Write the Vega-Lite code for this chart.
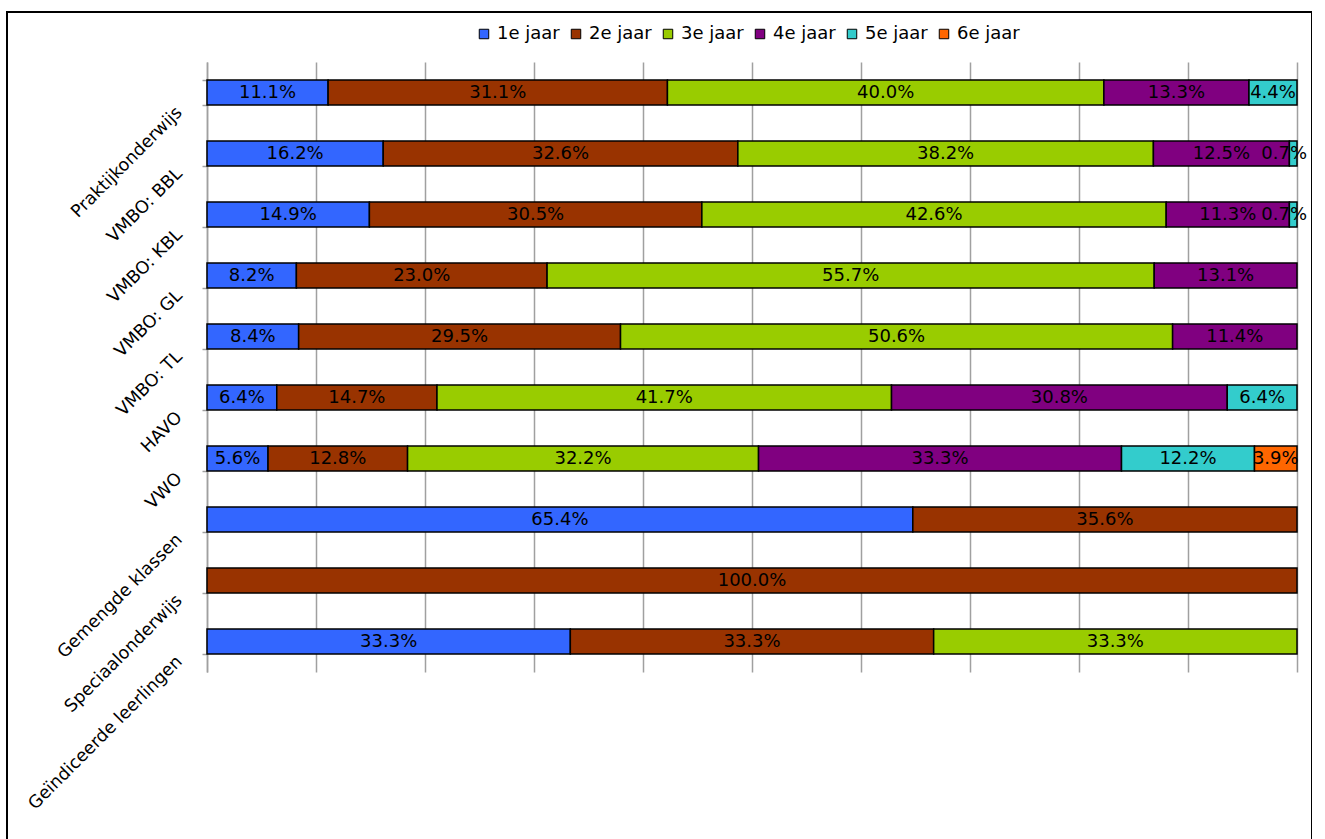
{
  "$schema": "https://vega.github.io/schema/vega-lite/v6.json",
  "autosize": {"type": "none"},
  "padding": {"left": 7, "top": 12, "right": 0, "bottom": 0},
  "width": 1305,
  "height": 840,
  "background": "white",
  "config": {"view": {"stroke": "black", "strokeWidth": 2}, "font": "DejaVu Sans"},
  "data": {"values": [
    {"cat": "Praktijkonderwijs", "year": "1e jaar", "p": 0.111},
    {"cat": "Praktijkonderwijs", "year": "2e jaar", "p": 0.311},
    {"cat": "Praktijkonderwijs", "year": "3e jaar", "p": 0.400},
    {"cat": "Praktijkonderwijs", "year": "4e jaar", "p": 0.133},
    {"cat": "Praktijkonderwijs", "year": "5e jaar", "p": 0.044},
    {"cat": "VMBO: BBL", "year": "1e jaar", "p": 0.162},
    {"cat": "VMBO: BBL", "year": "2e jaar", "p": 0.326},
    {"cat": "VMBO: BBL", "year": "3e jaar", "p": 0.382},
    {"cat": "VMBO: BBL", "year": "4e jaar", "p": 0.125},
    {"cat": "VMBO: BBL", "year": "5e jaar", "p": 0.007},
    {"cat": "VMBO: KBL", "year": "1e jaar", "p": 0.149},
    {"cat": "VMBO: KBL", "year": "2e jaar", "p": 0.305},
    {"cat": "VMBO: KBL", "year": "3e jaar", "p": 0.426},
    {"cat": "VMBO: KBL", "year": "4e jaar", "p": 0.113},
    {"cat": "VMBO: KBL", "year": "5e jaar", "p": 0.007},
    {"cat": "VMBO: GL", "year": "1e jaar", "p": 0.082},
    {"cat": "VMBO: GL", "year": "2e jaar", "p": 0.230},
    {"cat": "VMBO: GL", "year": "3e jaar", "p": 0.557},
    {"cat": "VMBO: GL", "year": "4e jaar", "p": 0.131},
    {"cat": "VMBO: TL", "year": "1e jaar", "p": 0.084},
    {"cat": "VMBO: TL", "year": "2e jaar", "p": 0.295},
    {"cat": "VMBO: TL", "year": "3e jaar", "p": 0.506},
    {"cat": "VMBO: TL", "year": "4e jaar", "p": 0.114},
    {"cat": "HAVO", "year": "1e jaar", "p": 0.064},
    {"cat": "HAVO", "year": "2e jaar", "p": 0.147},
    {"cat": "HAVO", "year": "3e jaar", "p": 0.417},
    {"cat": "HAVO", "year": "4e jaar", "p": 0.308},
    {"cat": "HAVO", "year": "5e jaar", "p": 0.064},
    {"cat": "VWO", "year": "1e jaar", "p": 0.056},
    {"cat": "VWO", "year": "2e jaar", "p": 0.128},
    {"cat": "VWO", "year": "3e jaar", "p": 0.322},
    {"cat": "VWO", "year": "4e jaar", "p": 0.333},
    {"cat": "VWO", "year": "5e jaar", "p": 0.122},
    {"cat": "VWO", "year": "6e jaar", "p": 0.039},
    {"cat": "Gemengde klassen", "year": "1e jaar", "p": 0.654},
    {"cat": "Gemengde klassen", "year": "2e jaar", "p": 0.356},
    {"cat": "Speciaalonderwijs", "year": "2e jaar", "p": 1.0},
    {"cat": "Geïndiceerde leerlingen", "year": "1e jaar", "p": 0.333},
    {"cat": "Geïndiceerde leerlingen", "year": "2e jaar", "p": 0.333},
    {"cat": "Geïndiceerde leerlingen", "year": "3e jaar", "p": 0.333}
  ]},
  "encoding": {
    "y": {
      "field": "cat", "type": "nominal",
      "sort": ["Praktijkonderwijs", "VMBO: BBL", "VMBO: KBL", "VMBO: GL", "VMBO: TL", "HAVO", "VWO", "Gemengde klassen", "Speciaalonderwijs", "Geïndiceerde leerlingen"],
      "scale": {"range": [50, 660], "paddingInner": 0.59, "paddingOuter": 0.295},
      "axis": {
        "title": null, "domainColor": "#a0a0a0", "domainWidth": 1.5,
        "tickColor": "#a0a0a0", "tickSize": 5, "tickWidth": 1.5, "tickBand": "extent",
        "offset": -200, "labelAngle": -45, "labelAlign": "right", "labelBaseline": "middle",
        "labelFontSize": 17.5, "labelColor": "black", "labelPadding": 23, "labelOffset": 17,
        "labelFont": "DejaVu Sans", "labelLimit": 400
      }
    },
    "x": {
      "field": "p", "type": "quantitative", "stack": "normalize",
      "scale": {"domain": [0, 1], "range": [200, 1290], "nice": false},
      "axis": {
        "title": null, "orient": "top", "grid": true, "gridColor": "#a0a0a0", "gridWidth": 1.5,
        "values": [0, 0.1, 0.2, 0.3, 0.4, 0.5, 0.6, 0.7, 0.8, 0.9, 1],
        "domain": false, "ticks": false, "labels": false
      }
    },
    "order": {"field": "year"}
  },
  "layer": [
    {
      "mark": {"type": "bar", "stroke": "black", "strokeWidth": 1.5},
      "encoding": {
        "color": {
          "field": "year", "type": "nominal",
          "scale": {"domain": ["1e jaar", "2e jaar", "3e jaar", "4e jaar", "5e jaar", "6e jaar"],
                    "range": ["#3366FF", "#993300", "#99CC00", "#800080", "#33CCCC", "#FF6600"]},
          "legend": {
            "title": null, "orient": "none", "direction": "horizontal",
            "legendX": 468, "legendY": 13,
            "symbolType": "square", "symbolSize": 90, "symbolStrokeColor": "black", "symbolStrokeWidth": 1,
            "labelFont": "DejaVu Sans", "labelFontSize": 18, "labelColor": "black",
            "labelOffset": 4, "columnPadding": 7, "padding": 0
          }
        }
      }
    },
    {
      "mark": {"type": "text", "fontSize": 18, "color": "black", "font": "DejaVu Sans"},
      "encoding": {
        "x": {"field": "p", "type": "quantitative", "stack": "normalize", "bandPosition": 0.5},
        "detail": {"field": "year"},
        "text": {"condition": {"test": "datum.p < 0.01", "value": ""}, "field": "p", "type": "quantitative", "format": ".1%"}
      }
    },
    {
      "transform": [{"filter": "datum.p < 0.01"}],
      "mark": {"type": "text", "fontSize": 18, "color": "black", "font": "DejaVu Sans", "align": "right", "dx": 10},
      "encoding": {
        "x": {"datum": 1, "type": "quantitative"},
        "text": {"field": "p", "type": "quantitative", "format": ".1%"}
      }
    }
  ]
}
